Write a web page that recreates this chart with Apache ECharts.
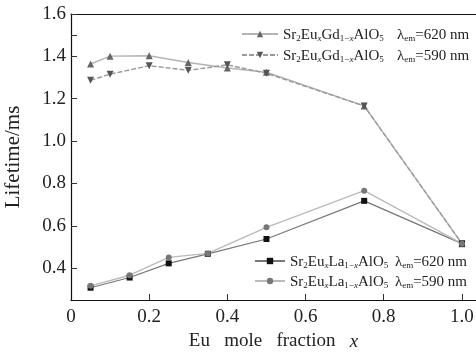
<!DOCTYPE html>
<html>
<head>
<meta charset="utf-8">
<script src="https://cdn.jsdelivr.net/npm/echarts@6/dist/echarts.min.js"></script>
<style>
  html, body { margin: 0; padding: 0; background: #fff; }
  #chart { width: 476px; height: 358px; }
</style>
</head>
<body>
<div id="chart"></div>
<script>
// Eu mole fraction values for each sample set
const gdFractions = [0.05, 0.1, 0.2, 0.3, 0.4, 0.5, 0.75, 1.0];
const laFractions = [0.05, 0.15, 0.25, 0.35, 0.5, 0.75, 1.0];

// lifetimes in ms
const gd620 = [1.364, 1.401, 1.403, 1.371, 1.345, 1.325, 1.166, 0.516];
const gd590 = [1.287, 1.316, 1.356, 1.334, 1.36, 1.32, 1.166, 0.516];
const la620 = [0.308, 0.356, 0.423, 0.468, 0.538, 0.718, 0.516];
const la590 = [0.317, 0.367, 0.451, 0.47, 0.593, 0.766, 0.516];

const xTickLabels = [0, 0.2, 0.4, 0.6, 0.8, 1.0];
const yTickLabels = [0.4, 0.6, 0.8, 1.0, 1.2, 1.4, 1.6];
const yTicks = [0.4, 0.6, 0.8, 1.0, 1.2, 1.4, 1.5, 1.6];

const legendText = {
  gd620: "{n|Sr}{s|2}{n|Eu}{si|x}{n|Gd}{s|1−}{si|x}{n|AlO}{s|5}    {n|λ}{s|em}{n|=620 nm}",
  gd590: "{n|Sr}{s|2}{n|Eu}{si|x}{n|Gd}{s|1−}{si|x}{n|AlO}{s|5}    {n|λ}{s|em}{n|=590 nm}",
  la620: "{n|Sr}{s|2}{n|Eu}{si|x}{n|La}{s|1−}{si|x}{n|AlO}{s|5}  {n|λ}{s|em}{n|=620 nm}",
  la590: "{n|Sr}{s|2}{n|Eu}{si|x}{n|La}{s|1−}{si|x}{n|AlO}{s|5}  {n|λ}{s|em}{n|=590 nm}",
};

const serif = "Liberation Serif";

const rich = {
  n: { fontFamily: serif, fontSize: 15, color: "#222", lineHeight: 18, verticalAlign: "bottom" },
  s: { fontFamily: serif, fontSize: 9, color: "#222", lineHeight: 12, verticalAlign: "bottom" },
  si: { fontFamily: serif, fontSize: 9, fontStyle: "italic", color: "#222", lineHeight: 12, verticalAlign: "bottom" },
};

function pairs(xs, ys) {
  return xs.map((x, i) => [x, ys[i]]);
}

const chart = echarts.init(document.getElementById("chart"), null, { renderer: "canvas" });

const legendBase = {
  orient: "vertical",
  itemHeight: 8,
  formatter: (name) => legendText[name],
  textStyle: { rich },
};

chart.setOption({
  backgroundColor: "#fff",
  animation: false,
  grid: { left: 71, right: 0, top: 14, bottom: 58, outerBoundsMode: "none" },
  legend: [
    Object.assign({}, legendBase, { data: ["gd620", "gd590"], left: 236, top: 23, itemWidth: 36, itemGap: 6 }),
    Object.assign({}, legendBase, { data: ["la620", "la590"], left: 249, top: 250, itemWidth: 30, itemGap: 5 }),
  ],
  xAxis: [
    {
      type: "value",
      min: 0,
      max: 1.036,
      name: "Eu   mole   fraction   {i|x}",
      nameLocation: "middle",
      nameGap: 32,
      nameTextStyle: {
        fontFamily: serif,
        fontSize: 19,
        color: "#222",
        rich: { i: { fontFamily: serif, fontSize: 19, fontStyle: "italic", color: "#222" } },
      },
      axisLine: { lineStyle: { color: "#111", width: 1.2 } },
      axisTick: { inside: true, length: 6, lineStyle: { color: "#333" }, customValues: [0.2, 0.4, 0.6, 0.8, 1.0] },
      axisLabel: {
        customValues: xTickLabels,
        fontFamily: serif,
        fontSize: 19,
        color: "#222",
        margin: 8,
        formatter: (v) => (v === 0 ? "0" : v.toFixed(1)),
      },
      splitLine: { show: false },
    },
    {
      type: "value",
      position: "top",
      min: 0,
      max: 1.036,
      axisLine: { lineStyle: { color: "#111", width: 1.2 } },
      axisTick: { show: false },
      axisLabel: { show: false },
      splitLine: { show: false },
    },
  ],
  yAxis: {
    type: "value",
    min: 0.25,
    max: 1.6,
    name: "Lifetime/ms",
    nameLocation: "middle",
    nameGap: 47,
    nameRotate: 90,
    nameTextStyle: { fontFamily: serif, fontSize: 21, color: "#222" },
    axisLine: { show: true, lineStyle: { color: "#111", width: 1.2 } },
    axisTick: { inside: true, length: 6, lineStyle: { color: "#333" }, customValues: yTicks },
    axisLabel: {
      customValues: yTickLabels,
      fontFamily: serif,
      fontSize: 19,
      color: "#222",
      margin: 5,
      formatter: (v) => v.toFixed(1),
    },
    splitLine: { show: false },
  },
  series: [
    {
      name: "gd620",
      type: "line",
      data: pairs(gdFractions, gd620),
      symbol: "triangle",
      symbolSize: 7,
      itemStyle: { color: "#666" },
      lineStyle: { color: "#b4b4b4", width: 1.4 },
    },
    {
      name: "gd590",
      type: "line",
      data: pairs(gdFractions, gd590),
      symbol: "triangle",
      symbolRotate: 180,
      symbolSize: 7,
      itemStyle: { color: "#555" },
      lineStyle: { color: "#9a9a9a", width: 1.4, type: [5, 2] },
    },
    {
      name: "la620",
      type: "line",
      data: pairs(laFractions, la620),
      symbol: "rect",
      symbolSize: 6,
      itemStyle: { color: "#111" },
      lineStyle: { color: "#777", width: 1.2 },
    },
    {
      name: "la590",
      type: "line",
      data: pairs(laFractions, la590),
      symbol: "circle",
      symbolSize: 6,
      itemStyle: { color: "#777" },
      lineStyle: { color: "#bbb", width: 1.4 },
    },
  ],
});
</script>
</body>
</html>
